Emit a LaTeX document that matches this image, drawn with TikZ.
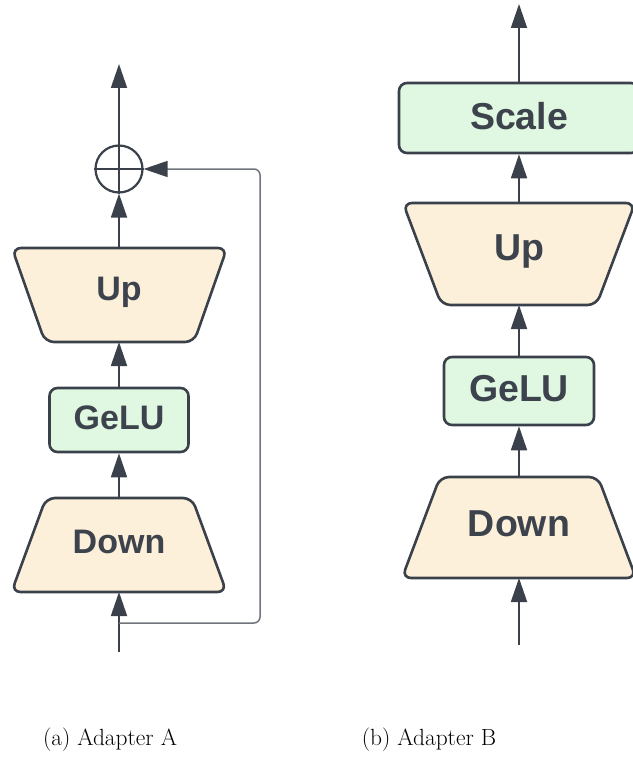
\documentclass[tikz,border=0pt]{standalone}
\usepackage{fontspec}
\setmainfont{Latin Modern Roman}
\newfontfamily\boxfont{Liberation Sans}
\usetikzlibrary{arrows.meta}
\definecolor{lc}{HTML}{3B414B}
\definecolor{tc}{HTML}{3D434D}
\definecolor{skipc}{HTML}{70757C}
\definecolor{cream}{HTML}{FDF0DA}
\definecolor{mint}{HTML}{E0F8E2}
\tikzset{
  trapbox/.style={fill=cream, draw=lc, line width=2.6pt, rounded corners=9pt},
  greenbox/.style={fill=mint, draw=lc, line width=2.6pt, rounded corners=8pt, inner sep=0pt},
  lbl/.style={font=\boxfont\bfseries, text=tc, inner sep=0pt},
  arr/.style={draw=lc, line width=1.8pt, -{Triangle[length=24pt,width=16pt]}},
  skiparr/.style={draw=skipc, line width=1.5pt, rounded corners=6pt, -{Triangle[length=24pt,width=16pt,color=lc]}},
  captext/.style={font=\fontsize{23.4}{26}\selectfont, inner sep=0pt},
}
\begin{document}
\begin{tikzpicture}[x=1pt,y=-1pt]
\useasboundingbox (0,0) rectangle (632,757);
% ---------- Adapter A ----------
% Down (wide at bottom)
\path[trapbox] (46,498) -- (192,498) -- (226.5,592) -- (11.5,592) -- cycle;
\coordinate (aDownT) at (119,498);
\coordinate (aDownB) at (119,592);
\node[lbl, font=\fontsize{34}{37}\boxfont\bfseries] (aDown) at (119,542) {Down};
% GeLU
\node[greenbox, minimum width=139pt, minimum height=64pt] (aGelu) at (119,420) {};
\node[lbl, font=\fontsize{34}{37}\boxfont\bfseries] (aGeluT) at (119,418) {GeLU};
% Up (wide at top)
\path[trapbox] (12,248) -- (227,248) -- (194,342) -- (45,342) -- cycle;
\coordinate (aUpT) at (119,248);
\coordinate (aUpB) at (119,342);
\node[lbl, font=\fontsize{34}{37}\boxfont\bfseries] (aUp) at (119,292) {Up};
% plus
\node[circle, draw=lc, line width=2.2pt, minimum size=47pt, inner sep=0pt] (aPlus) at (119,169) {};
\draw[lc, line width=2.2pt] (aPlus.north) -- (aPlus.south) (aPlus.west) -- (aPlus.east);
% connectors
\coordinate (aIn) at (119,652);
\coordinate (aBr) at (119,623);
\coordinate (aOut) at (119,64);
\coordinate (aSkipR) at (260,623);
\coordinate (aSkipT) at (260,169);
\draw[arr] (aIn) -- (aDownB);
\draw[arr] (aDownT) -- (aGelu.south);
\draw[arr] (aGelu.north) -- (aUpB);
\draw[arr] (aUpT) -- (aPlus.south);
\draw[arr] (aPlus.north) -- (aOut);
\draw[skiparr] (aBr) -- (aSkipR) -- (aSkipT) -- (aPlus.east);
% ---------- Adapter B ----------
\path[trapbox] (440,477) -- (598,477) -- (636,578) -- (402,578) -- cycle;
\coordinate (bDownT) at (519,477);
\coordinate (bDownB) at (519,578);
\node[lbl, font=\fontsize{37.5}{41}\boxfont\bfseries] (bDown) at (519,524) {Down};
\node[greenbox, minimum width=150pt, minimum height=68pt] (bGelu) at (519,391) {};
\node[lbl, font=\fontsize{37.5}{41}\boxfont\bfseries] (bGeluT) at (519,389) {GeLU};
\path[trapbox] (403,203) -- (635,203) -- (596.5,305) -- (441.5,305) -- cycle;
\coordinate (bUpT) at (519,203);
\coordinate (bUpB) at (519,305);
\node[lbl, font=\fontsize{37.5}{41}\boxfont\bfseries] (bUp) at (519,251) {Up};
\node[greenbox, minimum width=240pt, minimum height=70pt] (bScale) at (519,118) {};
\node[lbl, font=\fontsize{37.5}{41}\boxfont\bfseries] (bScaleT) at (519,116) {Scale};
\coordinate (bIn) at (519,645);
\coordinate (bOut) at (519,4);
\draw[arr] (bIn) -- (bDownB);
\draw[arr] (bDownT) -- (bGelu.south);
\draw[arr] (bGelu.north) -- (bUpB);
\draw[arr] (bUpT) -- (bScale.south);
\draw[arr] (bScale.north) -- (bOut);
% captions
\node[captext] (capA) at (110,740) {(a) Adapter A};
\node[captext] (capB) at (429,740) {(b) Adapter B};
\end{tikzpicture}
\end{document}
